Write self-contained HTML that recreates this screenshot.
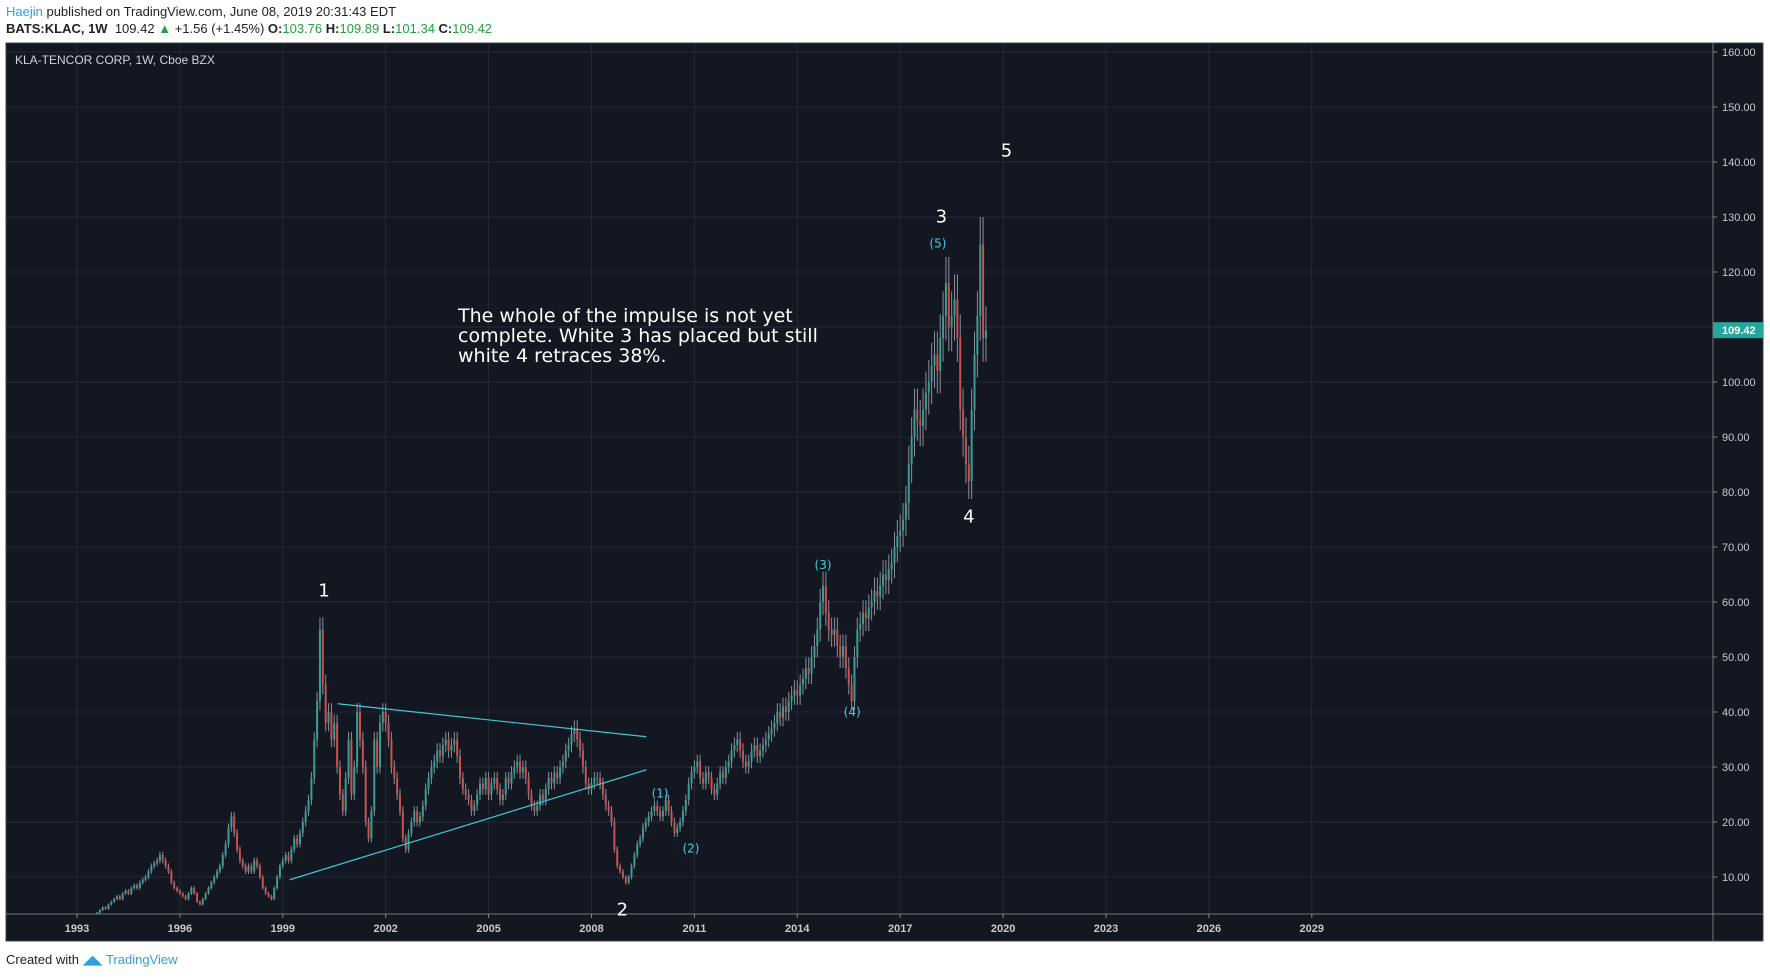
<!DOCTYPE html>
<html><head><meta charset="utf-8">
<style>
body{margin:0;width:1770px;height:978px;background:#fff;overflow:hidden;font-family:"Liberation Sans",sans-serif;}
#hdr1{position:absolute;left:6px;top:4px;font-size:13px;color:#222;}
#hdr2{position:absolute;left:6px;top:21px;font-size:13px;color:#222;}
.g{color:#21a33a}
#foot{position:absolute;left:6px;top:952px;font-size:13px;color:#222;}
svg{position:absolute;left:0;top:0}
</style></head><body>
<div id="hdr1"><span style="color:#2f9ee0">Haejin</span> published on TradingView.com, June 08, 2019 20:31:43 EDT</div>
<div id="hdr2"><b>BATS:KLAC, 1W</b>&nbsp; 109.42 <span class="g">▲</span> +1.56 (+1.45%) <b>O:</b><span class="g">103.76</span> <b>H:</b><span class="g">109.89</span> <b>L:</b><span class="g">101.34</span> <b>C:</b><span class="g">109.42</span></div>
<svg id="chart" width="1770" height="978"></svg>
<div id="foot">Created with <span style="color:#2f9ee0">◢◣ TradingView</span></div>
<script>
const yearTicks=[1993,1996,1999,2002,2005,2008,2011,2014,2017,2020,2023,2026,2029];
const priceTicks=[10,20,30,40,50,60,70,80,90,100,110,120,130,140,150,160];
const startYear=1993.5;
const closes=[3,3.5,4,4.5,4.2,5,
5.5,6,6.5,6,7,7.5,7,8,8.5,8,9,9.5,
10,11,12,12.5,13,14,13,12,11,9,8,7.5,
7,6.5,6,7,8,7,5.5,5,6,7,8,9,
10,11,12,14,16,19,21,18,15,13,12,11,
12,11,13,12,10,8,7,6.5,6,8,10,12,
13,14,13,15,17,16,18,20,22,24,28,35,
42,55,45,38,40,35,38,30,25,22,28,35,
25,30,40,35,30,20,17,22,35,30,38,40,
38,35,30,28,25,22,17,15,18,20,22,20,
21,23,26,28,30,31,33,32,34,35,33,34,
35,32,28,26,25,24,22,23,25,27,26,28,
25,27,28,26,24,25,28,27,29,30,31,29,
30,28,25,23,22,23,25,24,26,28,27,29,
28,30,31,33,34,36,37,35,33,30,27,26,
27,28,28,27,25,23,22,20,15,12,11,10,
9,10,12,14,16,17,19,20,21,22,23,22,
21,22,24,22,20,18,19,20,22,24,27,29,
30,31,28,27,29,28,26,25,27,29,28,30,
31,33,34,35,33,31,30,31,33,34,32,33,
34,35,36,37,38,40,39,41,40,42,43,44,
43,45,46,48,47,50,52,55,60,63,58,55,
54,55,52,50,52,48,45,42,50,55,56,58,
57,59,60,62,61,63,65,64,66,67,70,72,
73,75,78,85,90,95,93,92,95,98,100,103,
105,102,108,112,118,110,112,115,108,95,90,85,
82,95,105,112,125,108,109.42];
const lastPrice=109.42;
const trendUpper=[[2000.6,41.5],[2009.6,35.5]];
const trendLower=[[1999.2,9.5],[2009.6,29.5]];
const waveLabels=[["1",2000.2,61],["2",2008.9,3],["3",2018.2,129],["4",2019.0,74.5],["5",2020.1,141]];
const subLabels=[["(5)",2018.1,124.5],["(3)",2014.75,66],["(4)",2015.6,39.3],["(1)",2010.0,24.5],["(2)",2010.9,14.5]];

const NS="http://www.w3.org/2000/svg";
const svg=document.getElementById('chart');
const L=6,T=43,R=1763,B=941,AX=1713,PB=914;
const xs=y=>77+(y-1993)*34.3;
const ys=p=>877-(p-10)*5.5;
function mk(tag,attrs,parent){const e=document.createElementNS(NS,tag);for(const k in attrs)e.setAttribute(k,attrs[k]);(parent||svg).appendChild(e);return e;}
const bg=mk('rect',{x:L,y:T,width:R-L,height:B-T,fill:'#131722',stroke:'#444',"stroke-width":1});


const clip=mk('clipPath',{id:'pc'});mk('rect',{x:L,y:T,width:AX-L,height:PB-T},clip);
priceTicks.forEach(p=>{
  const gl=mk('line',{x1:L,x2:AX,y1:ys(p),y2:ys(p),stroke:'#262a35'});
  
  
  const t=mk('text',{x:AX+9,y:ys(p)+4,fill:'#c8cad0',"font-size":11,"font-family":"Liberation Sans, sans-serif"});
  t.textContent=p.toFixed(2);
  
  
  mk('line',{x1:AX,x2:AX+4,y1:ys(p),y2:ys(p),stroke:'#888'});
});
yearTicks.forEach(y=>{
  const gl=mk('line',{x1:xs(y),x2:xs(y),y1:T,y2:PB,stroke:'#262a35'});
  
  
  const t=mk('text',{x:xs(y),y:932,fill:'#c8cad0',"font-size":11,"font-weight":"bold","text-anchor":"middle","font-family":"Liberation Sans, sans-serif"});
  t.textContent=y;
  
  
  mk('line',{x1:xs(y),x2:xs(y),y1:PB,y2:PB+4,stroke:'#888'});
});
mk('line',{x1:AX,x2:AX,y1:T,y2:B,stroke:'#777'});
mk('line',{x1:L,x2:R,y1:PB,y2:PB,stroke:'#777'});
const cg=mk('g',{"clip-path":'url(#pc)'});


for(let i=0;i<closes.length;i++){
  const o=i?closes[i-1]:closes[0]*0.9,c=closes[i];
  const x=xs(startYear+i/12);
  const up=c>=o,col=up?'#3a9d93':'#c9514f';
  const hi=Math.max(o,c),lo=Math.min(o,c);
  const w=mk('line',{x1:x,x2:x,y1:ys(hi+hi*0.04),y2:ys(lo-lo*0.04),stroke:'#8a8f99',"stroke-width":1},cg);
  
  
  const b=mk('rect',{x:x-1,y:ys(hi),width:2,height:Math.max(1,ys(lo)-ys(hi)),fill:col},cg);
  
  
}
[trendUpper,trendLower].forEach(tl=>{
  const l=mk('line',{x1:xs(tl[0][0]),y1:ys(tl[0][1]),x2:xs(tl[1][0]),y2:ys(tl[1][1]),stroke:'#3fc9d6',"stroke-width":1.2});
  
  
});
waveLabels.forEach(w=>{
  const t=mk('text',{x:xs(w[1]),y:ys(w[2]),fill:'#fff',"font-size":18,"text-anchor":"middle","font-family":"DejaVu Sans, sans-serif"});
  t.textContent=w[0];
  
  
});
subLabels.forEach(w=>{
  const t=mk('text',{x:xs(w[1]),y:ys(w[2]),fill:'#3fd0e0',"font-size":12,"text-anchor":"middle","font-family":"DejaVu Sans, sans-serif"});
  t.textContent=w[0];
  
  
});
const ann=["The whole of the impulse is not yet","complete. White 3 has placed but still","white 4 retraces 38%."];
ann.forEach((s,i)=>{
  const t=mk('text',{x:458,y:322+i*20,fill:'#fff',"font-size":19,"font-family":"DejaVu Sans, sans-serif"});
  t.textContent=s;
  
  
});
const tt=mk('text',{x:15,y:64,fill:'#d0d3da',"font-size":12,"font-family":"Liberation Sans, sans-serif"});
tt.textContent="KLA-TENCOR CORP, 1W, Cboe BZX";


const pl=mk('rect',{x:AX,y:ys(lastPrice)-8,width:R-AX,height:16,fill:'#26a69a'});


const pt=mk('text',{x:AX+9,y:ys(lastPrice)+4,fill:'#fff',"font-size":11,"font-weight":"bold","font-family":"Liberation Sans, sans-serif"});
pt.textContent=lastPrice.toFixed(2);


</script>
</body></html>
